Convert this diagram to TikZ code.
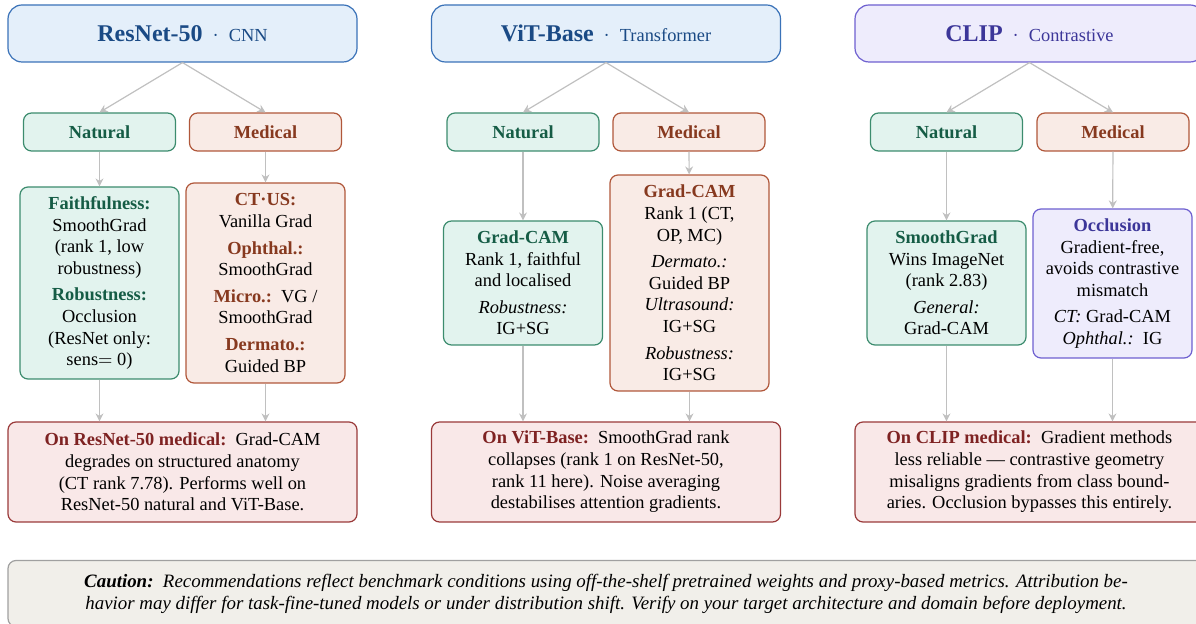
\documentclass[tikz,border=0pt]{standalone}
\usepackage{fontspec}
\setmainfont{Liberation Serif}
\usetikzlibrary{arrows.meta,positioning}

\definecolor{archF}{HTML}{E4EFFA}
\definecolor{archD}{HTML}{3A72B8}
\definecolor{archT}{HTML}{1A4A85}
\definecolor{clipF}{HTML}{EEECFC}
\definecolor{clipD}{HTML}{6E60D0}
\definecolor{clipT}{HTML}{3C3699}
\definecolor{natF}{HTML}{E2F3EE}
\definecolor{natD}{HTML}{3C8C6E}
\definecolor{natT}{HTML}{155C45}
\definecolor{medF}{HTML}{F9EBE6}
\definecolor{medD}{HTML}{B0573A}
\definecolor{medT}{HTML}{87391F}
\definecolor{noteF}{HTML}{F9E8E8}
\definecolor{noteD}{HTML}{9A3A3A}
\definecolor{noteT}{HTML}{7E2222}
\definecolor{cautF}{HTML}{F1EFEA}
\definecolor{cautD}{HTML}{A0A0A0}
\definecolor{linkC}{HTML}{C0C0C0}

\newcommand{\natlab}[1]{\textbf{\color{natT}#1}}
\newcommand{\medlab}[1]{\textbf{\color{medT}#1}}
\newcommand{\cliplab}[1]{\textbf{\color{clipT}#1}}
\newcommand{\notelab}[1]{\textbf{\color{noteT}#1}}
\newcommand{\archtitle}[2]{{\bfseries\fontsize{12}{14}\selectfont #1}\hspace{5pt}·\hspace{5pt}#2}

\tikzset{
  box/.style={draw, rounded corners=4pt, line width=0.6pt, align=center, inner sep=2pt,
    font=\fontsize{9.2}{10.8}\selectfont},
  archbox/.style={box, rounded corners=7pt, fill=archF, draw=archD, text=archT,
    minimum width=174.5pt, minimum height=28.5pt},
  clipbox/.style={archbox, fill=clipF, draw=clipD, text=clipT},
  natbox/.style={box, fill=natF, draw=natD},
  medbox/.style={box, fill=medF, draw=medD},
  occbox/.style={box, fill=clipF, draw=clipD},
  tagbox/.style={minimum width=76pt, minimum height=19pt, font=\bfseries\fontsize{9.2}{10.8}\selectfont},
  detbox/.style={minimum width=79.5pt},
  notebox/.style={box, fill=noteF, draw=noteD, minimum width=174.5pt, minimum height=50pt},
  link/.style={draw=linkC, line width=0.6pt, -{Stealth[length=4pt,width=4pt]}}
}

\begin{document}
\begin{tikzpicture}[x=0.5pt,y=-0.5pt]
\useasboundingbox (0,0) rectangle (1196,624);

\node[archbox](r) at (182.5,33.5) {\archtitle{ResNet-50}{CNN}};
\node[natbox,tagbox,text=natT](rn) at (99.5,132) {Natural};
\node[medbox,tagbox,text=medT](rm) at (265.5,132) {Medical};
\node[natbox,detbox,minimum height=96pt](rnd) at (99.5,283) {\natlab{Faithfulness:}\\SmoothGrad\\(rank 1, low\\robustness)\\[2.5pt]
  \natlab{Robustness:}\\Occlusion\\(ResNet only:\\sens$=$~0)};
\node[medbox,detbox,minimum height=100pt](rmd) at (265.5,283) {\medlab{CT·US:}\\Vanilla Grad\\[2.5pt]\medlab{Ophthal.:}\\SmoothGrad\\[2.5pt]
  \medlab{Micro.:}~~VG /\\SmoothGrad\\[2.5pt]\medlab{Dermato.:}\\Guided BP};
\node[notebox](rs) at (182.5,472) {\notelab{On ResNet-50 medical:}~~Grad-CAM\\degrades on structured anatomy\\(CT rank 7.78). Performs well on\\ResNet-50 natural and ViT-Base.};

\node[archbox](v) at (606,33.5) {\archtitle{ViT-Base}{Transformer}};
\node[natbox,tagbox,text=natT](vn) at (523,132) {Natural};
\node[medbox,tagbox,text=medT](vm) at (689,132) {Medical};
\node[natbox,detbox,minimum height=62pt](vnd) at (523,283) {\natlab{Grad-CAM}\\Rank 1, faithful\\and localised\\[2.5pt]\textit{Robustness:}\\IG+SG};
\node[medbox,detbox,minimum height=108pt](vmd) at (689.5,283) {\medlab{Grad-CAM}\\Rank 1 (CT,\\OP, MC)\\[2.5pt]\textit{Dermato.:}\\Guided BP\\
  \textit{Ultrasound:}\\IG+SG\\[2.5pt]\textit{Robustness:}\\IG+SG};
\node[notebox](vs) at (606,472) {\notelab{On ViT-Base:}~~SmoothGrad rank\\collapses (rank 1 on ResNet-50,\\rank 11 here). Noise averaging\\destabilises attention gradients.};

\node[clipbox](c) at (1029.5,33.5) {\archtitle{CLIP}{Contrastive}};
\node[natbox,tagbox,text=natT](cn) at (946.5,132) {Natural};
\node[medbox,tagbox,text=medT](cm) at (1113,132) {Medical};
\node[natbox,detbox,minimum height=62pt](cnd) at (946.5,283) {\natlab{SmoothGrad}\\Wins ImageNet\\(rank 2.83)\\[2.5pt]\textit{General:}\\Grad-CAM};
\node[occbox,detbox,minimum height=74.5pt](cmd) at (1112.5,283.5) {\cliplab{Occlusion}\\Gradient-free,\\avoids contrastive\\mismatch\\[2.5pt]
  \textit{CT:} Grad-CAM\\\textit{Ophthal.:}~~IG};
\node[notebox](cs) at (1029.5,472) {\notelab{On CLIP medical:}~~Gradient methods\\less reliable --- contrastive geometry\\misaligns gradients from class bound-\\aries. Occlusion bypasses this entirely.};

\node[box,fill=cautF,draw=cautD,minimum width=598pt,minimum height=33pt,font=\itshape\fontsize{9.45}{11}\selectfont](w) at (606,593.5)
  {\textbf{Caution:}~~Recommendations reflect benchmark conditions using off-the-shelf pretrained weights and proxy-based metrics. Attribution be-\\
  havior may differ for task-fine-tuned models or under distribution shift. Verify on your target architecture and domain before deployment.};

\draw[link](r.south)--(rn.north);
\draw[link](r.south)--(rm.north);
\draw[link](rn)--(rnd);
\draw[link](rm)--(rmd);
\draw[link](rnd.south)--(rnd.south|-rs.north);
\draw[link](rmd.south)--(rmd.south|-rs.north);
\draw[link](v.south)--(vn.north);
\draw[link](v.south)--(vm.north);
\draw[link](vn)--(vnd);
\draw[link](vm)--(vmd);
\draw[link](vnd.south)--(vnd.south|-vs.north);
\draw[link](vmd.south)--(vmd.south|-vs.north);
\draw[link](c.south)--(cn.north);
\draw[link](c.south)--(cm.north);
\draw[link](cn)--(cnd);
\draw[link](cm)--(cmd);
\draw[link](cnd.south)--(cnd.south|-cs.north);
\draw[link](cmd.south)--(cmd.south|-cs.north);
\end{tikzpicture}
\end{document}
